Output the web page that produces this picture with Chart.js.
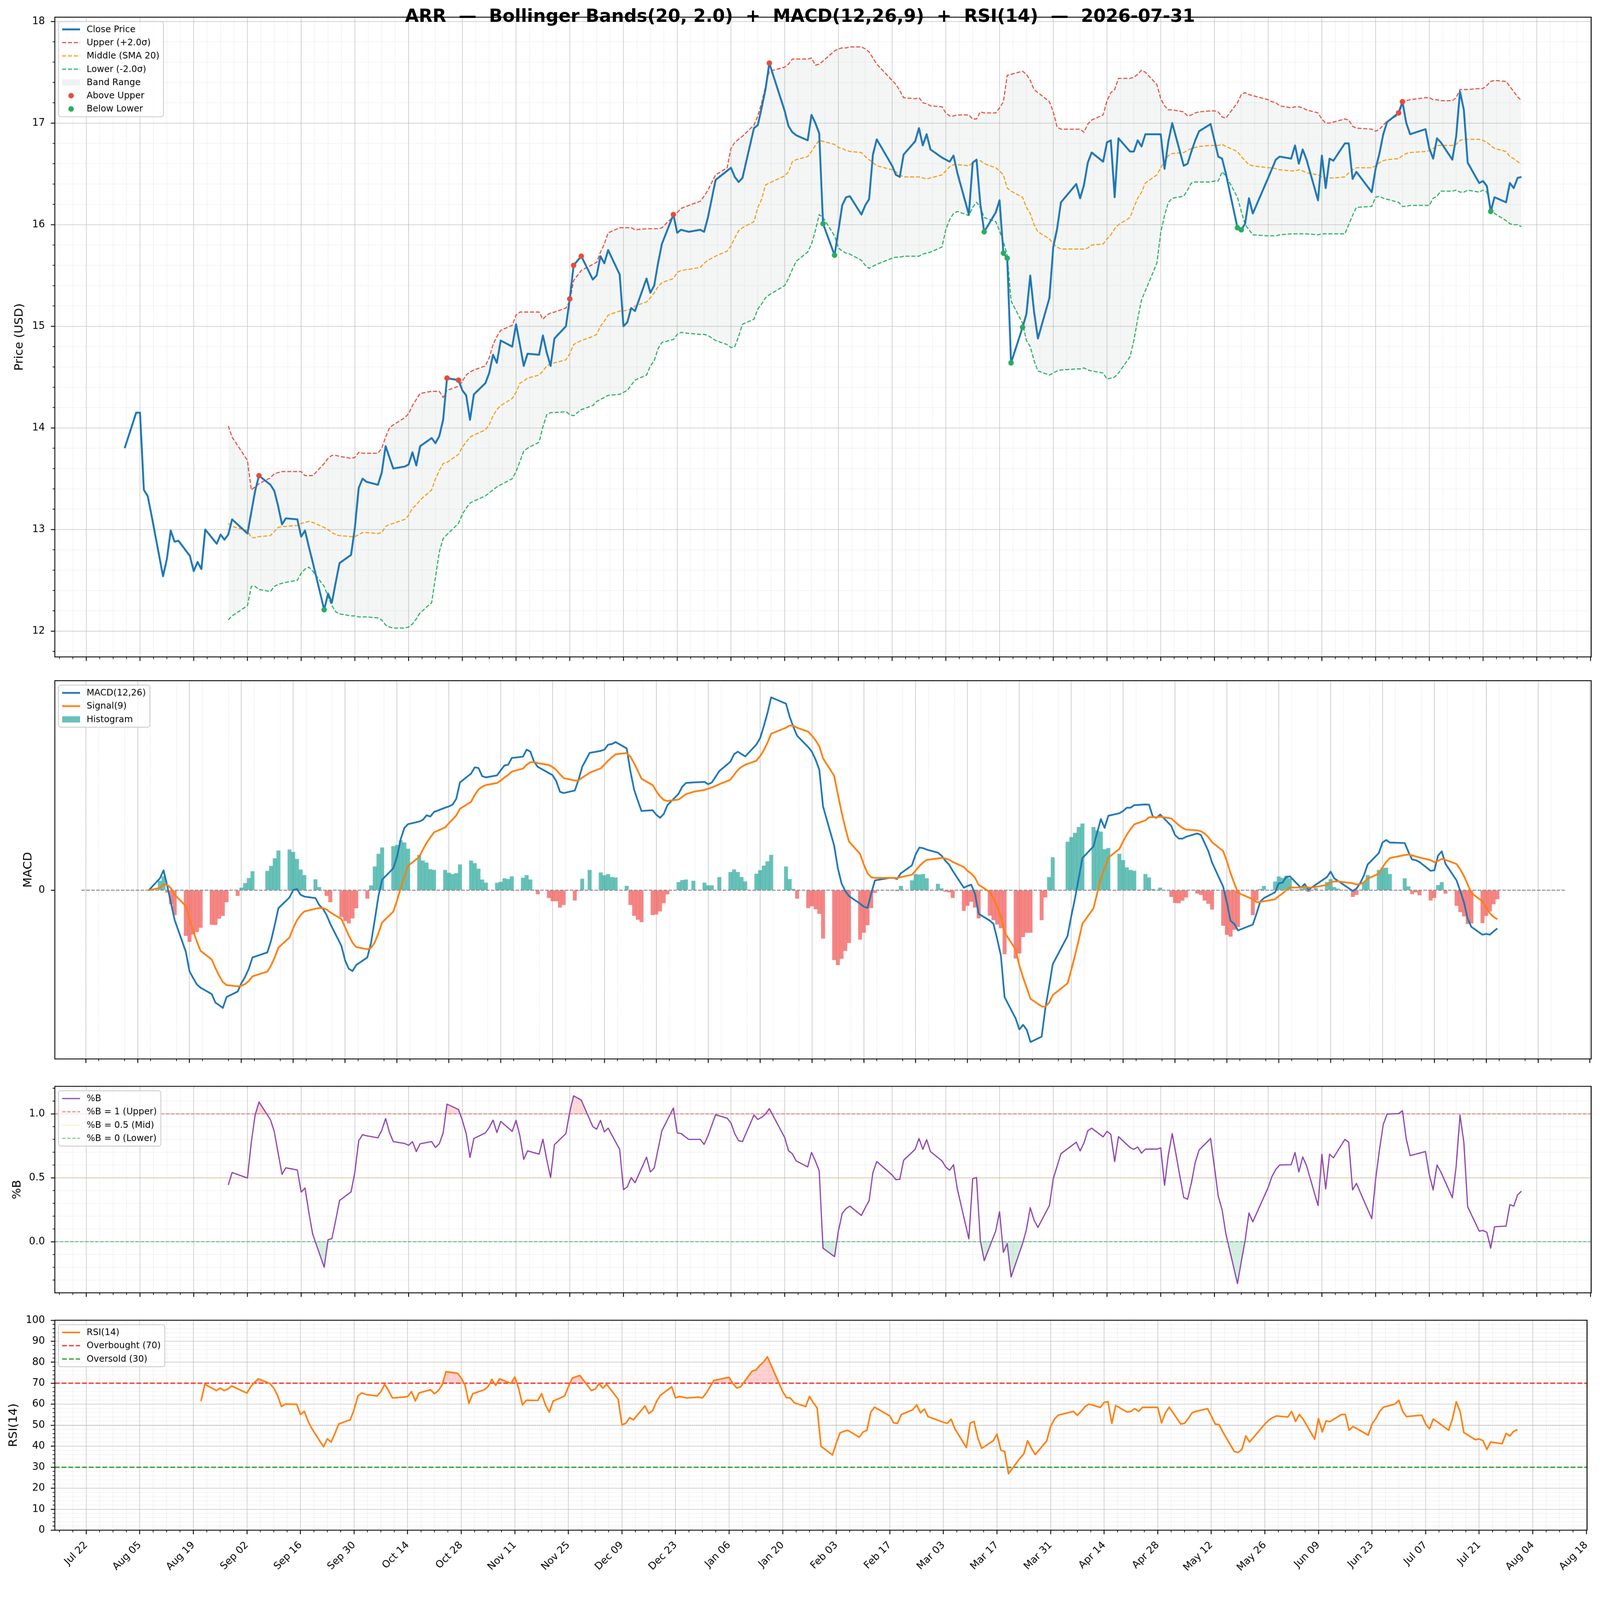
<!DOCTYPE html>
<html>
<head>
<meta charset="utf-8">
<title>ARR Bollinger / MACD / RSI</title>
<script src="https://cdn.jsdelivr.net/npm/chart.js@4.4.1/dist/chart.umd.min.js"></script>
<style>
  html, body { margin: 0; padding: 0; background: #fff; overflow: hidden; }
  #fig { position: relative; width: 4378px; height: 4322px; overflow: hidden; background: #fff; transform-origin: 0 0; }
  #fig canvas { position: absolute; left: 0; }
  #title { position: absolute; left: 0; top: 15px; width: 4378px; text-align: center; white-space: pre;
           font: bold 48.8px "DejaVu Sans", sans-serif; line-height: 57px; color: #000; z-index: 5; }
</style>
</head>
<body>
<div id="fig">
  <div id="title">ARR  —  Bollinger Bands(20, 2.0)  +  MACD(12,26,9)  +  RSI(14)  —  2026-07-31</div>
  <canvas id="c-price" width="4378" height="1830" style="top:0px"></canvas>
  <canvas id="c-macd" width="4378" height="1100" style="top:1830px"></canvas>
  <canvas id="c-pctb" width="4378" height="630" style="top:2940px"></canvas>
  <canvas id="c-rsi" width="4378" height="742" style="top:3580px"></canvas>
</div>
<script>
// fit the 4378x4322 figure into whatever viewport we actually get
(function fitFigure() {
  const vw = window.innerWidth || document.documentElement.clientWidth || 4378;
  const vh = window.innerHeight || document.documentElement.clientHeight || 4322;
  const k = Math.min(vw / 4378, vh / 4322);
  if (k > 0 && Math.abs(k - 1) > 0.002) document.getElementById('fig').style.transform = 'scale(' + k + ')';
})();

// ---- data (one value per trading session) ----
const firstSession = '2025-08-01';
const lastSession = '2026-07-31';
const holidays = ['2025-09-01', '2025-11-27', '2025-12-25', '2026-01-01', '2026-01-19',
                  '2026-02-16', '2026-04-03', '2026-05-25', '2026-06-19', '2026-07-03'];

const closePrice = [
  13.80, 14.15, 14.15, 13.39, 13.33, 13.14, 12.54, 12.71, 12.99, 12.88, 12.89, 12.74, 12.59, 12.68, 12.61, 13.00, 12.86, 12.95, 12.90, 12.95, 13.10,
  12.96, 13.17, 13.38, 13.53, 13.44, 13.38, 13.23, 13.05, 13.11, 13.10, 12.93, 12.99, 12.83, 12.68, 12.21, 12.37, 12.28, 12.48, 12.67, 12.75, 13.02,
  13.41, 13.50, 13.47, 13.44, 13.56, 13.82, 13.71, 13.60, 13.62, 13.64, 13.76, 13.63, 13.82, 13.90, 13.85, 13.92, 14.08, 14.49, 14.47, 14.37, 14.32, 14.08, 14.33,
  14.44, 14.54, 14.72, 14.64, 14.86, 14.80, 15.02, 14.82, 14.61, 14.73, 14.72, 14.91, 14.74, 14.61, 14.88, 15.00, 15.27, 15.60, 15.69,
  15.46, 15.50, 15.69, 15.62, 15.75, 15.51, 15.00, 15.04, 15.18, 15.15, 15.47, 15.33, 15.40, 15.62, 15.81, 16.10, 15.92, 15.95, 15.93, 15.95, 15.93, 16.07,
  16.44, 16.53, 16.56, 16.47, 16.42, 16.46, 16.95, 16.98, 17.15, 17.33, 17.59, 17.12, 16.97, 16.91, 16.88, 16.83, 17.08, 17.00, 16.90, 16.01,
  15.70, 15.94, 16.19, 16.27, 16.28, 16.10, 16.19, 16.25, 16.69, 16.84, 16.58, 16.49, 16.47, 16.69, 16.82, 16.95, 16.78, 16.89, 16.74,
  16.66, 16.64, 16.62, 16.68, 16.51, 16.10, 16.61, 16.64, 16.20, 15.93, 16.12, 16.24, 15.72, 15.67, 14.64, 14.99, 15.12, 15.50, 15.14, 14.88, 15.28, 15.78,
  15.96, 16.22, 16.40, 16.26, 16.39, 16.61, 16.71, 16.62, 16.81, 16.83, 16.27, 16.85, 16.72, 16.72, 16.83, 16.77, 16.89, 16.89, 16.89, 16.55, 16.82,
  17.00, 16.58, 16.60, 16.72, 16.83, 16.92, 16.99, 16.83, 16.67, 16.65, 16.50, 15.97, 15.95, 16.01, 16.26, 16.11, 16.46, 16.55, 16.64, 16.67,
  16.65, 16.78, 16.60, 16.74, 16.64, 16.24, 16.68, 16.36, 16.65, 16.63, 16.80, 16.80, 16.45, 16.52, 16.32, 16.55, 16.70, 16.89, 17.01, 17.10, 17.21,
  17.00, 16.89, 16.94, 16.75, 16.65, 16.85, 16.81, 16.64, 16.87, 17.31, 17.13, 16.61, 16.41, 16.43, 16.38, 16.13, 16.27, 16.22, 16.41, 16.36, 16.46, 16.47
];

// bands start on the 20th session
const bandStart = '2025-08-28';
const upperBand = [
  14.02, 13.91,
  13.68, 13.39, 13.42, 13.45, 13.51, 13.55, 13.56, 13.57, 13.57, 13.57, 13.57, 13.53, 13.53, 13.53, 13.65, 13.70, 13.73, 13.73, 13.72, 13.70, 13.71,
  13.76, 13.75, 13.75, 13.75, 13.80, 13.91, 14.00, 14.03, 14.10, 14.14, 14.22, 14.28, 14.34, 14.36, 14.36, 14.36, 14.30, 14.37, 14.41, 14.46, 14.52, 14.55, 14.57,
  14.61, 14.69, 14.82, 14.90, 14.96, 15.01, 15.11, 15.14, 15.14, 15.14, 15.14, 15.07, 15.11, 15.13, 15.14, 15.18, 15.25, 15.45, 15.55,
  15.61, 15.63, 15.73, 15.81, 15.92, 15.97, 15.97, 15.97, 15.97, 15.95, 15.96, 15.96, 15.96, 15.96, 15.97, 16.08, 16.12, 16.16, 16.19, 16.23, 16.28, 16.34,
  16.49, 16.56, 16.75, 16.81, 16.84, 16.87, 16.98, 17.07, 17.20, 17.36, 17.51, 17.55, 17.58, 17.63, 17.63, 17.63, 17.64, 17.57, 17.58, 17.61,
  17.71, 17.73, 17.74, 17.74, 17.75, 17.75, 17.73, 17.70, 17.64, 17.58, 17.42, 17.38, 17.32, 17.25, 17.24, 17.25, 17.20, 17.19, 17.17,
  17.16, 17.10, 17.07, 17.07, 17.08, 17.08, 17.04, 17.04, 17.11, 17.10, 17.10, 17.15, 17.21, 17.47, 17.48, 17.51, 17.48, 17.42, 17.33, 17.30, 17.21, 17.11,
  16.96, 16.94, 16.94, 16.94, 16.91, 16.99, 17.03, 17.08, 17.22, 17.30, 17.33, 17.44, 17.44, 17.45, 17.48, 17.52, 17.50, 17.38, 17.24, 17.17, 17.13,
  17.13, 17.11, 17.07, 17.08, 17.10, 17.11, 17.12, 17.12, 17.11, 17.06, 17.05, 17.20, 17.28, 17.30, 17.28, 17.27, 17.23, 17.21, 17.20, 17.17,
  17.15, 17.16, 17.16, 17.15, 17.13, 17.10, 17.04, 17.00, 17.00, 17.01, 17.04, 17.03, 16.97, 16.95, 16.94, 16.92, 16.94, 16.98, 17.02, 17.08, 17.19,
  17.22, 17.23, 17.25, 17.25, 17.23, 17.23, 17.22, 17.22, 17.25, 17.33, 17.33, 17.33, 17.34, 17.34, 17.37, 17.41, 17.42, 17.41, 17.36, 17.31, 17.26, 17.22
];
const middleBand = [
  13.06, 13.03,
  12.99, 12.92, 12.92, 12.93, 12.94, 12.98, 13.02, 13.03, 13.03, 13.04, 13.06, 13.07, 13.08, 13.07, 13.02, 13.00, 12.97, 12.95, 12.94, 12.93, 12.93,
  12.95, 12.97, 12.97, 12.96, 12.97, 13.03, 13.05, 13.06, 13.10, 13.14, 13.21, 13.24, 13.29, 13.39, 13.50, 13.58, 13.65, 13.66, 13.74, 13.81, 13.86, 13.91, 13.93,
  13.98, 14.03, 14.12, 14.18, 14.22, 14.29, 14.35, 14.44, 14.46, 14.49, 14.52, 14.56, 14.61, 14.63, 14.64, 14.67, 14.73, 14.82, 14.86,
  14.90, 14.92, 15.00, 15.05, 15.11, 15.15, 15.15, 15.16, 15.17, 15.20, 15.24, 15.28, 15.33, 15.39, 15.43, 15.47, 15.53, 15.55, 15.56, 15.58, 15.62, 15.65,
  15.69, 15.74, 15.79, 15.87, 15.94, 15.97, 16.03, 16.17, 16.25, 16.39, 16.41, 16.48, 16.52, 16.62, 16.64, 16.67, 16.72, 16.78, 16.83, 16.82,
  16.79, 16.76, 16.75, 16.73, 16.72, 16.71, 16.67, 16.64, 16.61, 16.58, 16.54, 16.52, 16.49, 16.47, 16.47, 16.47, 16.46, 16.45, 16.46,
  16.49, 16.53, 16.57, 16.59, 16.59, 16.58, 16.61, 16.63, 16.63, 16.60, 16.56, 16.53, 16.49, 16.36, 16.33, 16.27, 16.17, 16.11, 16.00, 15.93, 15.86, 15.81,
  15.78, 15.76, 15.76, 15.76, 15.76, 15.77, 15.80, 15.81, 15.86, 15.90, 15.96, 16.00, 16.07, 16.17, 16.26, 16.32, 16.41, 16.49, 16.56, 16.62, 16.68,
  16.70, 16.71, 16.73, 16.75, 16.76, 16.77, 16.78, 16.78, 16.78, 16.79, 16.77, 16.72, 16.67, 16.63, 16.59, 16.58, 16.56, 16.56, 16.55, 16.54,
  16.53, 16.53, 16.54, 16.53, 16.51, 16.49, 16.47, 16.46, 16.46, 16.46, 16.47, 16.51, 16.54, 16.56, 16.56, 16.58, 16.61, 16.63, 16.64, 16.65, 16.68,
  16.70, 16.71, 16.72, 16.73, 16.75, 16.78, 16.78, 16.78, 16.79, 16.83, 16.84, 16.84, 16.84, 16.83, 16.81, 16.78, 16.75, 16.72, 16.67, 16.65, 16.62, 16.60
];
const lowerBand = [
  12.11, 12.15,
  12.25, 12.44, 12.44, 12.41, 12.39, 12.44, 12.46, 12.47, 12.48, 12.50, 12.57, 12.61, 12.63, 12.59, 12.44, 12.34, 12.25, 12.19, 12.17, 12.15, 12.15,
  12.14, 12.14, 12.14, 12.13, 12.11, 12.06, 12.04, 12.03, 12.03, 12.04, 12.07, 12.12, 12.18, 12.28, 12.53, 12.78, 12.91, 12.95, 13.06, 13.15, 13.21, 13.26, 13.28,
  13.33, 13.36, 13.39, 13.42, 13.44, 13.50, 13.57, 13.67, 13.77, 13.80, 13.86, 14.01, 14.13, 14.15, 14.15, 14.16, 14.13, 14.12, 14.18,
  14.22, 14.26, 14.28, 14.30, 14.32, 14.33, 14.35, 14.37, 14.42, 14.47, 14.52, 14.61, 14.66, 14.78, 14.84, 14.87, 14.92, 14.94, 14.93, 14.92, 14.92, 14.91,
  14.86, 14.82, 14.79, 14.80, 14.90, 15.02, 15.07, 15.17, 15.22, 15.28, 15.31, 15.40, 15.47, 15.56, 15.64, 15.73, 15.81, 15.94, 16.10, 16.07,
  15.89, 15.77, 15.74, 15.72, 15.71, 15.65, 15.60, 15.57, 15.59, 15.61, 15.67, 15.68, 15.68, 15.69, 15.69, 15.69, 15.71, 15.72, 15.73,
  15.78, 15.95, 16.05, 16.11, 16.13, 16.09, 16.17, 16.22, 16.17, 16.07, 16.03, 15.94, 15.83, 15.70, 15.25, 15.03, 14.86, 14.80, 14.66, 14.56, 14.52, 14.54,
  14.56, 14.57, 14.58, 14.58, 14.59, 14.57, 14.56, 14.54, 14.48, 14.49, 14.50, 14.54, 14.70, 14.86, 15.07, 15.26, 15.35, 15.62, 15.92, 16.09, 16.22,
  16.26, 16.28, 16.34, 16.41, 16.42, 16.42, 16.42, 16.43, 16.43, 16.52, 16.48, 16.27, 16.13, 16.00, 15.95, 15.90, 15.89, 15.89, 15.89, 15.90,
  15.91, 15.91, 15.91, 15.91, 15.91, 15.90, 15.91, 15.91, 15.91, 15.91, 15.91, 16.00, 16.09, 16.17, 16.18, 16.27, 16.28, 16.26, 16.25, 16.22, 16.18,
  16.18, 16.19, 16.19, 16.19, 16.26, 16.28, 16.33, 16.33, 16.34, 16.32, 16.32, 16.34, 16.32, 16.34, 16.32, 16.18, 16.11, 16.04, 16.01, 16.00, 16.00, 15.98
];
const aboveUpperDates = ['2025-09-05', '2025-10-24', '2025-10-27', '2025-11-25', '2025-11-26', '2025-11-28',
                         '2025-12-22', '2026-01-16', '2026-06-29', '2026-06-30'];
const belowLowerDates = ['2025-09-22', '2026-01-30', '2026-02-02', '2026-03-13', '2026-03-18', '2026-03-19',
                         '2026-03-20', '2026-03-23', '2026-05-18', '2026-05-19', '2026-07-23'];

const macdLine = [
  0, 0.0235, 0.0395, 0.0085, -0.0255, -0.059, -0.1215, -0.1605, -0.174, -0.1865, -0.193, -0.2055, -0.2225, -0.2275, -0.233, -0.2115, -0.2005, -0.184, -0.1715, -0.1555, -0.133,
  -0.123, -0.1005, -0.069, -0.0355, -0.014, 0.0005, 0.0025, -0.009, -0.0125, -0.0155, -0.029, -0.0365, -0.049, -0.0665, -0.11, -0.139, -0.1555, -0.16, -0.148, -0.133, -0.104,
  -0.059, -0.0115, 0.021, 0.0435, 0.066, 0.101, 0.1235, 0.131, 0.136, 0.1395, 0.1485, 0.146, 0.155, 0.1635, 0.166, 0.1695, 0.181, 0.2135, 0.231, 0.2435, 0.242, 0.226, 0.2235,
  0.2275, 0.2375, 0.247, 0.2485, 0.262, 0.2645, 0.2785, 0.2745, 0.2545, 0.2445, 0.232, 0.228, 0.216, 0.195, 0.1925, 0.1975, 0.2185, 0.2445, 0.272,
  0.276, 0.2785, 0.2885, 0.2895, 0.2935, 0.281, 0.236, 0.1995, 0.1775, 0.157, 0.1585, 0.1495, 0.1435, 0.151, 0.1685, 0.191, 0.205, 0.2125, 0.2135, 0.2145, 0.21, 0.2135,
  0.236, 0.2545, 0.2695, 0.2745, 0.2695, 0.265, 0.2885, 0.301, 0.3245, 0.351, 0.382, 0.3695, 0.3435, 0.3235, 0.306, 0.2835, 0.2745, 0.2585, 0.2385, 0.166,
  0.0885, 0.0435, 0.0135, -0.0015, -0.0115, -0.0265, -0.0325, -0.035, -0.0065, 0.0195, 0.0245, 0.0245, 0.0225, 0.0335, 0.0495, 0.071, 0.0845, 0.0835, 0.0805,
  0.0745, 0.0685, 0.0585, 0.051, 0.0385, 0.005, 0.0085, 0.011, -0.0065, -0.0465, -0.06, -0.0665, -0.0965, -0.129, -0.2115, -0.254, -0.2755, -0.2665, -0.2765, -0.3005, -0.29, -0.234,
  -0.1915, -0.1465, -0.0905, -0.0515, -0.0165, 0.0235, 0.0635, 0.087, 0.1145, 0.141, 0.1235, 0.1475, 0.1525, 0.157, 0.1635, 0.1635, 0.1685, 0.17, 0.1695, 0.146, 0.1435,
  0.15, 0.1275, 0.1095, 0.1025, 0.102, 0.106, 0.1125, 0.1095, 0.0935, 0.0775, 0.055, 0.007, -0.024, -0.0605, -0.0665, -0.0795, -0.068, -0.0465, -0.0225, -0.0155,
  -0.004, 0.0135, 0.015, 0.026, 0.0275, 0.005, 0.0125, 0.0005, 0.006, 0.011, 0.026, 0.037, 0.0235, 0.0185, -0.0015, 0.0035, 0.0145, 0.0295, 0.051, 0.0735, 0.0945,
  0.0995, 0.0945, 0.0935, 0.076, 0.061, 0.0595, 0.056, 0.0385, 0.0395, 0.0685, 0.077, 0.0525, 0.0195, -0.0015, -0.024, -0.0565, -0.0725, -0.088, -0.0865, -0.088, -0.0815, -0.0755
];
const signalLine = [
  0, 0.0047, 0.0117, 0.0111, 0.0038, -0.0088, -0.0313, -0.0571, -0.0805, -0.1017, -0.12, -0.1371, -0.1542, -0.1689, -0.1817, -0.1877, -0.1903, -0.1892, -0.1857, -0.1797, -0.1704,
  -0.161, -0.1489, -0.1329, -0.1134, -0.0935, -0.0747, -0.0593, -0.0492, -0.0419, -0.0366, -0.0351, -0.0354, -0.0381, -0.0438, -0.057, -0.0734, -0.0898, -0.1038, -0.1126, -0.1167, -0.1142,
  -0.1032, -0.0849, -0.0637, -0.0423, -0.0206, 0.0037, 0.0277, 0.0484, 0.0659, 0.0806, 0.0942, 0.1046, 0.1147, 0.1245, 0.1328, 0.1401, 0.1483, 0.1613, 0.1752, 0.1889, 0.1995, 0.2048, 0.2085,
  0.2123, 0.2173, 0.2232, 0.2283, 0.235, 0.2409, 0.2484, 0.2536, 0.2538, 0.2519, 0.2479, 0.2439, 0.2383, 0.2296, 0.2222, 0.2173, 0.2175, 0.2229, 0.2327,
  0.2414, 0.2488, 0.2567, 0.2633, 0.2693, 0.2716, 0.2645, 0.2515, 0.2367, 0.2208, 0.2083, 0.1965, 0.1859, 0.1789, 0.1768, 0.1796, 0.1847, 0.1903, 0.1949, 0.1988, 0.201, 0.2035,
  0.21, 0.2189, 0.229, 0.2381, 0.2444, 0.2485, 0.2565, 0.2654, 0.2772, 0.292, 0.31, 0.3219, 0.3262, 0.3257, 0.3218, 0.3141, 0.3062, 0.2967, 0.2851, 0.2613,
  0.2267, 0.1901, 0.1548, 0.1235, 0.0965, 0.0719, 0.051, 0.0338, 0.0257, 0.0245, 0.0245, 0.0245, 0.0241, 0.026, 0.0307, 0.0388, 0.0479, 0.055, 0.0601,
  0.063, 0.0641, 0.063, 0.0606, 0.0562, 0.046, 0.0385, 0.033, 0.0251, 0.0108, -0.0034, -0.016, -0.0321, -0.0515, -0.0835, -0.1176, -0.1492, -0.1727, -0.1935, -0.2149, -0.2299, -0.2307,
  -0.2229, -0.2076, -0.1842, -0.1577, -0.1295, -0.0989, -0.0664, -0.0357, -0.0057, 0.0236, 0.0436, 0.0644, 0.082, 0.097, 0.1103, 0.121, 0.1305, 0.1384, 0.1446, 0.1449, 0.1446,
  0.1457, 0.1421, 0.1356, 0.129, 0.1236, 0.1201, 0.1186, 0.1168, 0.1121, 0.1052, 0.0952, 0.0776, 0.0573, 0.0337, 0.0137, -0.005, -0.0176, -0.0234, -0.0232, -0.0217,
  -0.018, -0.0117, -0.0064, 0, 0.0055, 0.0054, 0.0068, 0.0055, 0.0056, 0.0067, 0.0106, 0.0159, 0.0174, 0.0176, 0.0138, 0.0117, 0.0123, 0.0157, 0.0228, 0.0329, 0.0452,
  0.0561, 0.0638, 0.0697, 0.071, 0.069, 0.0671, 0.0649, 0.0596, 0.0556, 0.0582, 0.062, 0.0601, 0.052, 0.0413, 0.0282, 0.0113, -0.0055, -0.022, -0.0349, -0.0455, -0.0527, -0.0573
];
const histogram = [
  0, 0.0185, 0.0275, -0.0045, -0.0275, -0.049, -0.09, -0.102, -0.0875, -0.0825, -0.074, -0.068, -0.0685, -0.056, -0.0505, -0.0235, -0.011, 0.005, 0.014, 0.024, 0.0375,
  0.038, 0.048, 0.063, 0.0785, 0.0805, 0.0755, 0.062, 0.041, 0.03, 0.0215, 0.006, 0, -0.011, -0.0235, -0.053, -0.0605, -0.0655, -0.0555, -0.0355, -0.0165, 0.0095,
  0.047, 0.072, 0.0845, 0.087, 0.0895, 0.0985, 0.0945, 0.082, 0.07, 0.0585, 0.0545, 0.0415, 0.04, 0.04, 0.0345, 0.032, 0.0335, 0.051, 0.0585, 0.0535, 0.0425, 0.021, 0.015,
  0.0145, 0.0165, 0.0235, 0.022, 0.0275, 0.0245, 0.03, 0.021, 0.001, -0.0075, -0.015, -0.0215, -0.0215, -0.034, -0.029, -0.02, -0.0015, 0.0225, 0.04,
  0.035, 0.0295, 0.032, 0.026, 0.025, 0.0085, -0.029, -0.0505, -0.058, -0.063, -0.049, -0.0475, -0.0415, -0.0255, -0.008, 0.016, 0.02, 0.021, 0.0185, 0.015, 0.0095, 0.0095,
  0.026, 0.036, 0.041, 0.036, 0.026, 0.0175, 0.0325, 0.0395, 0.0485, 0.057, 0.07, 0.047, 0.022, 0.0025, -0.0165, -0.035, -0.0315, -0.0375, -0.0465, -0.0955,
  -0.138, -0.148, -0.1355, -0.12, -0.104, -0.0975, -0.084, -0.069, -0.035, -0.005, 0, 0, -0.0015, 0.0085, 0.0195, 0.032, 0.031, 0.032, 0.0235,
  0.0125, 0.0035, -0.0025, -0.004, -0.015, -0.0405, -0.0305, -0.0225, -0.034, -0.0555, -0.05, -0.059, -0.0675, -0.075, -0.1265, -0.135, -0.125, -0.0925, -0.084, -0.084, -0.059, -0.014,
  0.026, 0.065, 0.096, 0.105, 0.1135, 0.125, 0.132, 0.125, 0.1185, 0.116, 0.081, 0.0835, 0.072, 0.0595, 0.045, 0.04, 0.0385, 0.032, 0.025, 0.0025, 0,
  0.005, -0.013, -0.025, -0.0255, -0.0205, -0.014, -0.0065, -0.009, -0.02, -0.0265, -0.038, -0.07, -0.088, -0.0915, -0.078, -0.0725, -0.049, -0.02, 0.0025, 0.0085,
  0.017, 0.027, 0.0245, 0.0285, 0.0235, 0.0025, 0.006, -0.003, 0, 0.004, 0.016, 0.022, 0.006, 0.003, -0.013, -0.009, 0.001, 0.016, 0.03, 0.04, 0.0445,
  0.0445, 0.032, 0.0235, 0.0075, -0.0075, -0.004, -0.01, -0.02, -0.015, 0.01, 0.016, -0.0065, -0.0305, -0.043, -0.0515, -0.0665, -0.0655, -0.065, -0.0505, -0.0415, -0.0275, -0.0175
];

const percentB = [
  0.444, 0.541,
  0.498, 0.778, 0.990, 1.093, 0.954, 0.859, 0.693, 0.527, 0.578, 0.561, 0.388, 0.420, 0.229, 0.059, -0.200, 0.015, 0.024, 0.168, 0.322, 0.390, 0.546,
  0.790, 0.837, 0.829, 0.812, 0.871, 0.963, 0.856, 0.783, 0.768, 0.754, 0.783, 0.705, 0.766, 0.783, 0.737, 0.766, 0.851, 1.076, 1.034, 0.949, 0.846, 0.659, 0.807,
  0.851, 0.893, 0.951, 0.854, 0.941, 0.863, 0.949, 0.827, 0.644, 0.710, 0.685, 0.802, 0.640, 0.502, 0.759, 0.846, 1.017, 1.141, 1.107,
  0.900, 0.880, 0.949, 0.859, 0.888, 0.722, 0.407, 0.429, 0.502, 0.461, 0.661, 0.546, 0.576, 0.722, 0.868, 1.046, 0.851, 0.846, 0.800, 0.800, 0.761, 0.827,
  0.993, 0.966, 0.929, 0.844, 0.790, 0.783, 0.990, 0.956, 0.973, 0.998, 1.041, 0.815, 0.712, 0.688, 0.632, 0.585, 0.698, 0.632, 0.554, -0.051,
  -0.117, 0.083, 0.222, 0.259, 0.278, 0.205, 0.266, 0.320, 0.541, 0.627, 0.522, 0.485, 0.488, 0.637, 0.722, 0.807, 0.722, 0.798, 0.705,
  0.632, 0.583, 0.559, 0.602, 0.412, 0.022, 0.493, 0.502, 0.010, -0.149, 0.083, 0.234, -0.083, -0.015, -0.276, -0.015, 0.095, 0.266, 0.168, 0.112, 0.283, 0.493,
  0.590, 0.688, 0.778, 0.710, 0.773, 0.868, 0.888, 0.820, 0.863, 0.839, 0.627, 0.822, 0.737, 0.722, 0.741, 0.693, 0.724, 0.724, 0.734, 0.441, 0.680,
  0.846, 0.346, 0.332, 0.461, 0.620, 0.717, 0.807, 0.583, 0.356, 0.249, 0.059, -0.327, -0.156, 0.010, 0.224, 0.156, 0.424, 0.510, 0.566, 0.600,
  0.602, 0.698, 0.546, 0.663, 0.595, 0.283, 0.683, 0.412, 0.685, 0.656, 0.800, 0.778, 0.405, 0.456, 0.180, 0.485, 0.717, 0.917, 0.998, 1.002, 1.024,
  0.802, 0.673, 0.705, 0.522, 0.405, 0.600, 0.546, 0.344, 0.590, 0.990, 0.778, 0.273, 0.083, 0.088, 0.073, -0.051, 0.117, 0.122, 0.290, 0.278, 0.366, 0.395
];

// RSI(14) starts on the 15th session
const rsiStart = '2025-08-21';
const rsi14 = [
  61.5, 69.5, 66.5, 67.7, 66.5, 67.2, 68.7,
  65.3, 68.4, 70.5, 72.1, 69.9, 67.7, 64.2, 58.9, 60.1, 60.0, 55.1, 56.6, 51.8, 48.3, 39.7, 43.5, 42.0, 46.1, 50.6, 52.6, 57.4,
  63.9, 65.4, 64.7, 63.9, 66.0, 69.5, 66.5, 63.0, 63.4, 63.7, 66.0, 61.6, 65.4, 66.9, 65.0, 66.5, 69.2, 75.5, 74.8, 72.5, 69.0, 60.4, 65.0,
  66.9, 68.4, 71.8, 69.0, 72.1, 69.9, 73.0, 67.5, 59.7, 61.9, 61.8, 65.0, 59.7, 56.2, 61.5, 63.9, 68.3, 72.5, 73.7,
  66.5, 67.2, 69.8, 67.7, 69.5, 62.4, 50.2, 50.9, 53.6, 52.6, 59.2, 55.6, 56.9, 61.2, 64.2, 68.3, 63.0, 63.7, 63.0, 63.4, 63.0, 65.3,
  71.3, 72.5, 72.8, 69.8, 67.7, 68.3, 75.8, 76.3, 78.5, 80.1, 82.6, 66.0, 63.1, 63.0, 60.7, 58.9, 63.7, 60.7, 58.2, 40.0,
  35.8, 41.5, 46.4, 47.1, 47.6, 44.3, 46.8, 47.6, 56.2, 58.6, 54.4, 51.1, 50.9, 55.1, 57.4, 59.7, 55.9, 57.7, 54.1,
  52.1, 51.4, 50.9, 52.9, 48.3, 39.3, 51.1, 51.8, 43.8, 39.0, 42.6, 45.8, 38.1, 37.5, 26.9, 34.3, 36.3, 42.6, 39.0, 36.0, 42.6, 49.4,
  52.9, 54.8, 56.6, 54.7, 56.6, 58.9, 60.1, 58.5, 60.9, 61.2, 50.9, 59.4, 56.3, 56.6, 57.9, 56.6, 58.5, 58.5, 58.5, 51.1, 55.9,
  58.6, 50.6, 50.9, 53.3, 55.9, 56.6, 57.9, 54.4, 50.6, 50.3, 46.8, 37.5, 37.0, 38.5, 44.9, 42.0, 50.6, 52.4, 53.6, 54.4,
  53.9, 56.6, 51.8, 55.1, 52.9, 43.4, 53.2, 46.8, 52.1, 51.7, 55.1, 55.1, 47.6, 49.4, 45.3, 50.6, 53.2, 56.6, 58.6, 60.1, 61.9,
  56.6, 54.1, 54.8, 50.6, 48.3, 52.9, 51.7, 47.6, 52.9, 61.2, 56.6, 46.5, 43.1, 43.5, 42.6, 38.5, 42.0, 41.2, 46.1, 44.9, 47.1, 47.9
];

const percentBLevels = [1, 0.5, 0];
const rsiLevels = [70, 50, 30];

// axis ticks
const xTickDates = ['2025-07-22', '2025-08-05', '2025-08-19', '2025-09-02', '2025-09-16', '2025-09-30', '2025-10-14',
  '2025-10-28', '2025-11-11', '2025-11-25', '2025-12-09', '2025-12-23', '2026-01-06', '2026-01-20', '2026-02-03',
  '2026-02-17', '2026-03-03', '2026-03-17', '2026-03-31', '2026-04-14', '2026-04-28', '2026-05-12', '2026-05-26',
  '2026-06-09', '2026-06-23', '2026-07-07', '2026-07-21', '2026-08-04', '2026-08-18'];
const priceTicks = [12, 13, 14, 15, 16, 17, 18];
const macdTicks = [0];
const pctBTicks = [0, 0.5, 1];
const rsiTicks = [0, 10, 20, 30, 40, 50, 60, 70, 80, 90, 100];

// ---- helpers ----
const DAY = 864e5;
const MONTHS = ['Jan', 'Feb', 'Mar', 'Apr', 'May', 'Jun', 'Jul', 'Aug', 'Sep', 'Oct', 'Nov', 'Dec'];
const dayOf = iso => Date.UTC(+iso.slice(0, 4), +iso.slice(5, 7) - 1, +iso.slice(8, 10)) / DAY;
const fmtDay = v => {
  const d = new Date(Math.round(v) * DAY);
  return MONTHS[d.getUTCMonth()] + ' ' + String(d.getUTCDate()).padStart(2, '0');
};

const sessions = [];
for (let d = dayOf(firstSession); d <= dayOf(lastSession); d++) {
  const dt = new Date(d * DAY);
  const wd = dt.getUTCDay();
  if (wd !== 0 && wd !== 6 && !holidays.includes(dt.toISOString().slice(0, 10))) sessions.push(d);
}

function series(vals, startIso) {
  const i0 = startIso ? sessions.indexOf(dayOf(startIso)) : 0;
  return vals.map((v, i) => ({ x: sessions[i0 + i], y: v }));
}
const markers = dates => dates.map(iso => {
  const x = dayOf(iso);
  return { x, y: closePrice[sessions.indexOf(x)] };
});

const span = sessions[sessions.length - 1] - sessions[0];
const xMin = sessions[0] - 0.05 * span;
const xMax = sessions[sessions.length - 1] + 0.05 * span;
const xMajor = xTickDates.map(dayOf);
const xMinor = [];
for (let v = xMajor[0] - 7; v <= xMax; v += 3.5) {
  if (v >= xMin && (v - xMajor[0]) % 14 !== 0) xMinor.push(v);
}
const steps = (from, to, step, skip) => {
  const out = [];
  for (let i = 0; from + i * step <= to + 1e-9; i++) {
    const v = +(from + i * step).toFixed(4);
    if (!skip(v)) out.push(v);
  }
  return out;
};
const priceMinor = steps(11.8, 18.0, 0.2, v => Math.abs(v - Math.round(v)) < 1e-6);
const pctBMinor = steps(-0.3, 1.2, 0.1, v => Math.abs(v * 2 - Math.round(v * 2)) < 1e-6);
const rsiMinor = steps(2, 98, 2, v => v % 10 === 0);

// ---- styling ----
const AXIS_W = 150, RIGHT_PAD = 24;
const TICK_FS = 27.5, LABEL_FS = 32.5, LEGEND_FS = 24.4;
const GRID = 'rgba(176,176,176,0.6)';
const MINOR = 'rgba(176,176,176,0.6)';
const DASH = [11, 5];
const BAND_FILL = 'rgba(149,165,166,0.1)';
const HIST_UP = 'rgba(38,166,154,0.7)', HIST_DN = 'rgba(239,83,80,0.7)';

Chart.defaults.font.family = '"DejaVu Sans", sans-serif';
Chart.defaults.color = '#000';

function xAxis(showLabels, h) {
  return {
    type: 'linear', min: xMin, max: xMax,
    afterBuildTicks: s => { s.ticks = xMajor.map(v => ({ value: v })); },
    afterFit: s => { s.height = h; },
    ticks: { display: showLabels, autoSkip: false, minRotation: 45, maxRotation: 45, padding: 14,
             color: '#000', font: { size: TICK_FS }, callback: v => fmtDay(v) },
    grid: { color: GRID, lineWidth: 2, tickLength: 11, tickWidth: 2.4, tickColor: '#000' },
    border: { display: false }
  };
}
function yAxis(o) {
  return {
    type: 'linear', min: o.min, max: o.max,
    afterBuildTicks: s => { s.ticks = o.ticks.map(v => ({ value: v })); },
    afterFit: s => { s.width = AXIS_W; },
    ticks: { color: '#000', padding: 16, font: { size: TICK_FS }, callback: o.fmt },
    grid: { color: o.noGrid ? 'rgba(0,0,0,0)' : GRID, lineWidth: 2, tickLength: 11, tickWidth: 2.4, tickColor: '#000' },
    border: { display: false },
    title: { display: true, text: o.title, color: '#000', font: { size: LABEL_FS }, padding: { top: o.titlePad, bottom: 0 } }
  };
}
function lineDs(label, data, color, width, dash, order, extra) {
  return Object.assign({
    label, data, borderColor: color, backgroundColor: color, borderWidth: width, borderDash: dash || [],
    pointRadius: 0, pointHoverRadius: 0, borderJoinStyle: 'round', fill: false, order
  }, extra || {});
}
const hline = (level, color, width, dash, order) =>
  lineDs('', [{ x: xMin, y: level }, { x: xMax, y: level }], color, width, dash, order);

// minor grid (dotted) and minor tick marks
const minorGrid = {
  id: 'minorGrid',
  beforeDatasetsDraw(chart, args, opt) {
    const { ctx, chartArea: a, scales: { x, y } } = chart;
    const ys = opt.y || [];
    ctx.save();
    ctx.strokeStyle = MINOR; ctx.lineWidth = 1.4; ctx.setLineDash([1.4, 2.7]);
    ctx.beginPath();
    xMinor.forEach(v => { const p = x.getPixelForValue(v); ctx.moveTo(p, a.top); ctx.lineTo(p, a.bottom); });
    ys.forEach(v => { const p = y.getPixelForValue(v); ctx.moveTo(a.left, p); ctx.lineTo(a.right, p); });
    ctx.stroke();
    ctx.setLineDash([]); ctx.strokeStyle = '#000'; ctx.lineWidth = 1.8;
    ctx.beginPath();
    xMinor.forEach(v => { const p = x.getPixelForValue(v); ctx.moveTo(p, a.bottom); ctx.lineTo(p, a.bottom + 6.1); });
    ys.forEach(v => { const p = y.getPixelForValue(v); ctx.moveTo(a.left - 6.1, p); ctx.lineTo(a.left, p); });
    ctx.stroke();
    ctx.restore();
  }
};
const frame = {
  id: 'frame',
  afterDatasetsDraw(chart) {
    const { ctx, chartArea: a } = chart;
    ctx.save();
    ctx.strokeStyle = '#000'; ctx.lineWidth = 2.4;
    ctx.strokeRect(a.left, a.top, a.right - a.left, a.bottom - a.top);
    ctx.restore();
  }
};
// matplotlib-like legend box in the upper left corner
const mplLegend = {
  id: 'mplLegend',
  afterDraw(chart, args, opt) {
    const items = opt.items || [];
    if (!items.length) return;
    const { ctx, chartArea: a } = chart;
    ctx.save();
    ctx.font = LEGEND_FS + 'px "DejaVu Sans"';
    const tw = Math.max(...items.map(it => ctx.measureText(it.label).width));
    const row = 36.3, edge = 21.3;
    const bx = a.left + 10, by = a.top + 12;
    const bw = 77 + tw + 11, bh = 2 * edge + row * (items.length - 1);
    const r = 6;
    ctx.beginPath();
    ctx.moveTo(bx + r, by); ctx.lineTo(bx + bw - r, by); ctx.arcTo(bx + bw, by, bx + bw, by + r, r);
    ctx.lineTo(bx + bw, by + bh - r); ctx.arcTo(bx + bw, by + bh, bx + bw - r, by + bh, r);
    ctx.lineTo(bx + r, by + bh); ctx.arcTo(bx, by + bh, bx, by + bh - r, r);
    ctx.lineTo(bx, by + r); ctx.arcTo(bx, by, bx + r, by, r); ctx.closePath();
    ctx.fillStyle = 'rgba(255,255,255,0.8)'; ctx.fill();
    ctx.strokeStyle = '#cccccc'; ctx.lineWidth = 2.4; ctx.stroke();
    items.forEach((it, i) => {
      const cy = by + edge + i * row, hx = bx + 10;
      if (it.kind === 'line') {
        ctx.strokeStyle = it.color; ctx.lineWidth = it.width; ctx.setLineDash(it.dash || []);
        ctx.beginPath(); ctx.moveTo(hx, cy); ctx.lineTo(hx + 49, cy); ctx.stroke();
        ctx.setLineDash([]);
      } else if (it.kind === 'patch') {
        ctx.fillStyle = it.color; ctx.fillRect(hx, cy - 8.5, 49, 17);
      } else if (it.kind === 'dot') {
        ctx.fillStyle = it.color; ctx.beginPath(); ctx.arc(hx + 24.5, cy, 7.5, 0, Math.PI * 2); ctx.fill();
      }
      ctx.fillStyle = '#000'; ctx.textBaseline = 'middle'; ctx.textAlign = 'left';
      ctx.fillText(it.label, bx + 77, cy + 1);
    });
    ctx.restore();
  }
};

function makeChart(id, padTop, xH, showX, yOpts, datasets, pluginOpts) {
  return new Chart(document.getElementById(id), {
    type: 'line',
    data: { datasets },
    options: {
      animation: false, responsive: false, devicePixelRatio: 1, events: [],
      layout: { padding: { left: 0, right: RIGHT_PAD, top: padTop, bottom: 0 } },
      scales: { x: xAxis(showX, xH), y: yAxis(yOpts) },
      plugins: Object.assign({ legend: { display: false }, tooltip: { enabled: false } }, pluginOpts)
    },
    plugins: [minorGrid, frame, mplLegend]
  });
}

// ---- panel 1: price + Bollinger bands ----
makeChart('c-price', 47, 31, false,
  { min: 11.746, max: 18.042, ticks: priceTicks, fmt: v => String(v), title: 'Price (USD)', titlePad: 34 },
  [
    lineDs('Above Upper', markers(aboveUpperDates), '#e74c3c', 0, null, 0,
      { showLine: false, pointRadius: 7.5, pointBorderWidth: 0, pointBackgroundColor: '#e74c3c' }),
    lineDs('Below Lower', markers(belowLowerDates), '#27ae60', 0, null, 0,
      { showLine: false, pointRadius: 7.5, pointBorderWidth: 0, pointBackgroundColor: '#27ae60' }),
    lineDs('Close Price', series(closePrice), '#1f77b4', 5.2, null, 1),
    lineDs('Upper (+2.0σ)', series(upperBand, bandStart), '#e74c3c', 3, DASH, 3,
      { fill: '+2', backgroundColor: BAND_FILL }),
    lineDs('Middle (SMA 20)', series(middleBand, bandStart), '#f39c12', 3, DASH, 2),
    lineDs('Lower (-2.0σ)', series(lowerBand, bandStart), '#27ae60', 3, DASH, 2)
  ],
  {
    minorGrid: { y: priceMinor },
    mplLegend: { items: [
      { kind: 'line', color: '#1f77b4', width: 5.2, label: 'Close Price' },
      { kind: 'line', color: '#e74c3c', width: 3, dash: DASH, label: 'Upper (+2.0σ)' },
      { kind: 'line', color: '#f39c12', width: 3, dash: DASH, label: 'Middle (SMA 20)' },
      { kind: 'line', color: '#27ae60', width: 3, dash: DASH, label: 'Lower (-2.0σ)' },
      { kind: 'patch', color: 'rgba(149,165,166,0.15)', label: 'Band Range' },
      { kind: 'dot', color: '#e74c3c', label: 'Above Upper' },
      { kind: 'dot', color: '#27ae60', label: 'Below Lower' }
    ] }
  });

// ---- panel 2: MACD ----
makeChart('c-macd', 26, 23, false,
  { min: -0.334, max: 0.415, ticks: macdTicks, fmt: v => String(v), title: 'MACD', titlePad: 58, noGrid: true },
  [
    lineDs('Signal(9)', series(signalLine), '#ff7f0e', 4.7, null, 0),
    lineDs('MACD(12,26)', series(macdLine), '#1f77b4', 4.7, null, 1),
    hline(0, 'rgb(140,140,140)', 2.7, [10, 3.5], 2),
    {
      type: 'bar', label: 'Histogram', data: series(histogram), order: 3,
      backgroundColor: c => (c.raw && c.raw.y < 0) ? HIST_DN : HIST_UP,
      borderWidth: 0, barPercentage: 1, categoryPercentage: 1
    }
  ],
  {
    minorGrid: { y: [] },
    mplLegend: { items: [
      { kind: 'line', color: '#1f77b4', width: 4.7, label: 'MACD(12,26)' },
      { kind: 'line', color: '#ff7f0e', width: 4.7, label: 'Signal(9)' },
      { kind: 'patch', color: HIST_UP, label: 'Histogram' }
    ] }
  });

// ---- panel 3: %B ----
const pbData = series(percentB, bandStart);
makeChart('c-pctb', 23, 24, false,
  { min: -0.40, max: 1.215, ticks: pctBTicks, fmt: v => v.toFixed(1), title: '%B', titlePad: 28 },
  [
    lineDs('%B', pbData, '#8e44ad', 3.3, null, 0),
    hline(percentBLevels[0], 'rgba(231,76,60,0.7)', 2.6, [9.6, 4.2], 1),
    hline(percentBLevels[1], 'rgba(243,156,18,0.7)', 2, [2, 3.3], 1),
    hline(percentBLevels[2], 'rgba(39,174,96,0.7)', 2.6, [9.6, 4.2], 1),
    lineDs('', pbData, 'rgba(0,0,0,0)', 0, null, 5,
      { fill: { target: { value: percentBLevels[0] }, above: 'rgba(231,76,60,0.2)', below: 'rgba(0,0,0,0)' } }),
    lineDs('', pbData, 'rgba(0,0,0,0)', 0, null, 5,
      { fill: { target: { value: percentBLevels[2] }, above: 'rgba(0,0,0,0)', below: 'rgba(39,174,96,0.2)' } })
  ],
  {
    minorGrid: { y: pctBMinor },
    mplLegend: { items: [
      { kind: 'line', color: '#8e44ad', width: 3.3, label: '%B' },
      { kind: 'line', color: 'rgba(231,76,60,0.7)', width: 2.6, dash: [9.6, 4.2], label: '%B = 1 (Upper)' },
      { kind: 'line', color: 'rgba(243,156,18,0.7)', width: 2, dash: [2, 3.3], label: '%B = 0.5 (Mid)' },
      { kind: 'line', color: 'rgba(39,174,96,0.7)', width: 2.6, dash: [9.6, 4.2], label: '%B = 0 (Lower)' }
    ] }
  });

// ---- panel 4: RSI ----
const rsiData = series(rsi14, rsiStart);
makeChart('c-rsi', 23, 135, true,
  { min: 0, max: 100, ticks: rsiTicks, fmt: v => String(v), title: 'RSI(14)', titlePad: 18 },
  [
    lineDs('RSI(14)', rsiData, '#ff7f0e', 4.3, null, 0),
    hline(rsiLevels[0], 'rgba(255,0,0,0.8)', 3.5, [13, 5.6], 1),
    hline(rsiLevels[1], 'rgba(128,128,128,0.6)', 2, [2, 3.3], 1),
    hline(rsiLevels[2], 'rgba(0,128,0,0.8)', 3.5, [13, 5.6], 1),
    lineDs('', rsiData, 'rgba(0,0,0,0)', 0, null, 5,
      { fill: { target: { value: rsiLevels[0] }, above: 'rgba(255,0,0,0.18)', below: 'rgba(0,0,0,0)' } }),
    lineDs('', rsiData, 'rgba(0,0,0,0)', 0, null, 5,
      { fill: { target: { value: rsiLevels[2] }, above: 'rgba(0,0,0,0)', below: 'rgba(0,128,0,0.18)' } })
  ],
  {
    minorGrid: { y: rsiMinor },
    mplLegend: { items: [
      { kind: 'line', color: '#ff7f0e', width: 4.3, label: 'RSI(14)' },
      { kind: 'line', color: 'rgba(255,0,0,0.8)', width: 3.5, dash: [13, 5.6], label: 'Overbought (70)' },
      { kind: 'line', color: 'rgba(0,128,0,0.8)', width: 3.5, dash: [13, 5.6], label: 'Oversold (30)' }
    ] }
  });
</script>
</body>
</html>
